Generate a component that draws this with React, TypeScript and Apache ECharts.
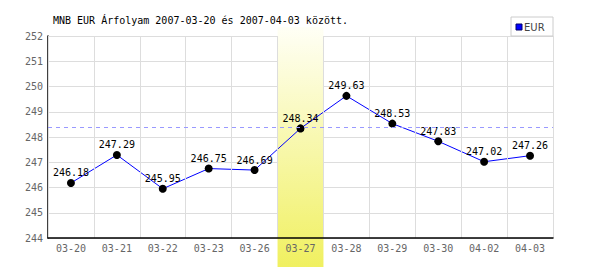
import React, { useEffect, useRef } from "react";
import * as echarts from "echarts";

const categories = ["03-20", "03-21", "03-22", "03-23", "03-26", "03-27", "03-28", "03-29", "03-30", "04-02", "04-03"];
const eurValues = [246.18, 247.29, 245.95, 246.75, 246.69, 248.34, 249.63, 248.53, 247.83, 247.02, 247.26];
const averageValue = 248.38;
const highlightCategory = "03-27";
const titleText = "MNB EUR Árfolyam 2007-03-20 és 2007-04-03 között.";
const seriesName = "EUR";
const yMin = 244;
const yMax = 252;
const yInterval = 1;

const MONO = "'DejaVu Sans Mono', monospace";

export default function App() {
  const ref = useRef<HTMLDivElement>(null);
  useEffect(() => {
    if (!ref.current) return;
    const chart = echarts.init(ref.current, null, { renderer: "svg" });
    const gridLeft = 48, gridRight = 47, gridTop = 36, gridBottom = 32;
    chart.setOption({
      animation: false,
      backgroundColor: "#ffffff",
      title: {
        text: titleText,
        left: 53,
        top: 15,
        padding: 0,
        textStyle: { fontFamily: MONO, fontSize: 10, fontWeight: "normal", color: "#000" },
      },
      grid: { left: gridLeft, right: gridRight, top: gridTop, bottom: gridBottom },
      xAxis: {
        type: "category",
        data: categories,
        boundaryGap: true,
        z: 3,
        axisLine: { lineStyle: { color: "#000", width: 1.5 } },
        axisTick: { show: false },
        axisLabel: { fontFamily: MONO, fontSize: 10, color: "#666", margin: 5 },
        splitLine: { show: true, lineStyle: { color: "#dddddd", width: 1 } },
      },
      yAxis: {
        type: "value",
        min: yMin,
        max: yMax,
        interval: yInterval,
        z: 0,
        axisLine: { show: true, lineStyle: { color: "#000", width: 1.5 } },
        axisTick: { show: false },
        axisLabel: { fontFamily: MONO, fontSize: 10, color: "#666", margin: 5 },
        splitLine: { show: true, lineStyle: { color: "#dddddd", width: 1 } },
      },
      series: [
        {
          name: seriesName,
          type: "line",
          data: eurValues,
          z: 2,
          symbol: "circle",
          symbolSize: 8,
          itemStyle: { color: "#000" },
          lineStyle: { color: "#0000ff", width: 1 },
          label: {
            show: true,
            position: "top",
            distance: 1,
            fontFamily: MONO,
            fontSize: 10,
            color: "#000",
            formatter: (p: any) => Number(p.value).toFixed(2),
          },
          markLine: {
            silent: true,
            symbol: ["none", "none"],
            label: { show: false },
            lineStyle: { color: "#9999ff", type: [4, 4], width: 1, opacity: 1 },
            data: [{ yAxis: averageValue }],
          },
        },
      ],
    });

    const idx = categories.indexOf(highlightCategory);
    const cx = chart.convertToPixel({ xAxisIndex: 0 }, idx) as number;
    const c0 = chart.convertToPixel({ xAxisIndex: 0 }, 0) as number;
    const c1 = chart.convertToPixel({ xAxisIndex: 0 }, 1) as number;
    const bw = c1 - c0;
    const legendRight = 600 - gridRight;
    chart.setOption({
      graphic: [
        {
          type: "rect",
          z: 1,
          silent: true,
          shape: { x: cx - bw / 2, y: gridTop - 9, width: bw, height: 240 },
          style: {
            fill: new echarts.graphic.LinearGradient(0, 0, 0, 1, [
              { offset: 0, color: "#fffff6" },
              { offset: 1, color: "#f0f060" },
            ]),
          },
        },
        {
          type: "group",
          z: 10,
          children: [
            {
              type: "rect",
              shape: { x: legendRight - 42, y: 17, width: 42, height: 19 },
              style: { fill: "#fff", stroke: "#cccccc", lineWidth: 1 },
            },
            {
              type: "rect",
              shape: { x: legendRight - 37, y: 24, width: 6, height: 6 },
              style: { fill: "#0000ff", stroke: "#000066", lineWidth: 1 },
            },
            {
              type: "text",
              x: legendRight - 29,
              y: 27,
              style: {
                text: seriesName,
                fontFamily: "'DejaVu Sans', sans-serif",
                fontSize: 10,
                fill: "#444",
                verticalAlign: "middle",
                align: "left",
              },
            },
          ],
        },
      ],
    });
    return () => chart.dispose();
  }, []);
  return <div ref={ref} style={{ position: "absolute", left: 0, top: 0, width: 600, height: 270 }} />;
}
